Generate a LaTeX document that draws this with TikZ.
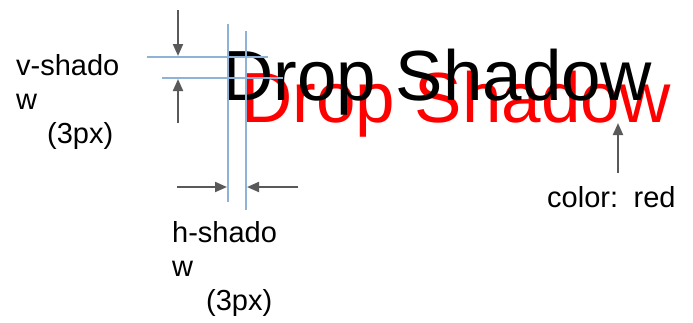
\documentclass[tikz,border=0pt]{standalone}
\usepackage{fontspec}
\setmainfont{Liberation Sans}
\usepackage{xcolor}
\usetikzlibrary{arrows.meta, positioning}

\definecolor{guideblue}{HTML}{8FB3D6}
\definecolor{arrowgray}{HTML}{595959}

\begin{document}
\begin{tikzpicture}[
            x=1pt, y=-1pt,
            guide/.style={draw=guideblue, line width=1.6pt},
            dim/.style={draw=arrowgray, line width=2pt, -{Triangle[length=12pt, width=10pt]}},
            lbl/.style={anchor=base west, inner sep=0pt, align=left, font=\fontsize{29}{34}\selectfont},
            title/.style={anchor=base west, inner sep=0pt, font=\fontsize{71}{74}\selectfont}
        ]
            \useasboundingbox (0,0) rectangle (693,322);
            % the two texts
            \node[title, red] (shadow) at (241,122) {Drop Shadow};
            \node[title] (drop) at (222,100) {Drop Shadow};
            % guide lines
            \coordinate (gv1a) at (228,24);  \coordinate (gv1b) at (228,202);
            \coordinate (gv2a) at (246,31);  \coordinate (gv2b) at (246,210);
            \coordinate (gh1a) at (147,57);  \coordinate (gh1b) at (268,57);
            \coordinate (gh2a) at (162,78);  \coordinate (gh2b) at (283,78);
            \draw[guide] (gv1a) -- (gv1b);
            \draw[guide] (gv2a) -- (gv2b);
            \draw[guide] (gh1a) -- (gh1b);
            \draw[guide] (gh2a) -- (gh2b);
            % labels (base is the last line)
            \node[lbl] (vlbl) at (16,143) {v-shado\\w\\\hspace*{31pt}(3px)};
            \node[lbl] (hlbl) at (172,310) {h-shado\\w\\\hspace*{34pt}(3px)};
            \node[lbl] (clbl) at (547,207) {color:\, red};
            % arrows
            \coordinate (vs1) at (178,10);   \coordinate (ve1) at (178,56);
            \coordinate (vs2) at (178,123);  \coordinate (ve2) at (178,79);
            \coordinate (hs1) at (177,187);  \coordinate (he1) at (227,187);
            \coordinate (hs2) at (298,187);  \coordinate (he2) at (247,187);
            \coordinate (cs) at (618,173);   \coordinate (ce) at (618,123);
            \draw[dim] (vs1) -- (ve1);
            \draw[dim] (vs2) -- (ve2);
            \draw[dim] (hs1) -- (he1);
            \draw[dim] (hs2) -- (he2);
            \draw[dim] (cs) -- (ce);
        \end{tikzpicture}
\end{document}
